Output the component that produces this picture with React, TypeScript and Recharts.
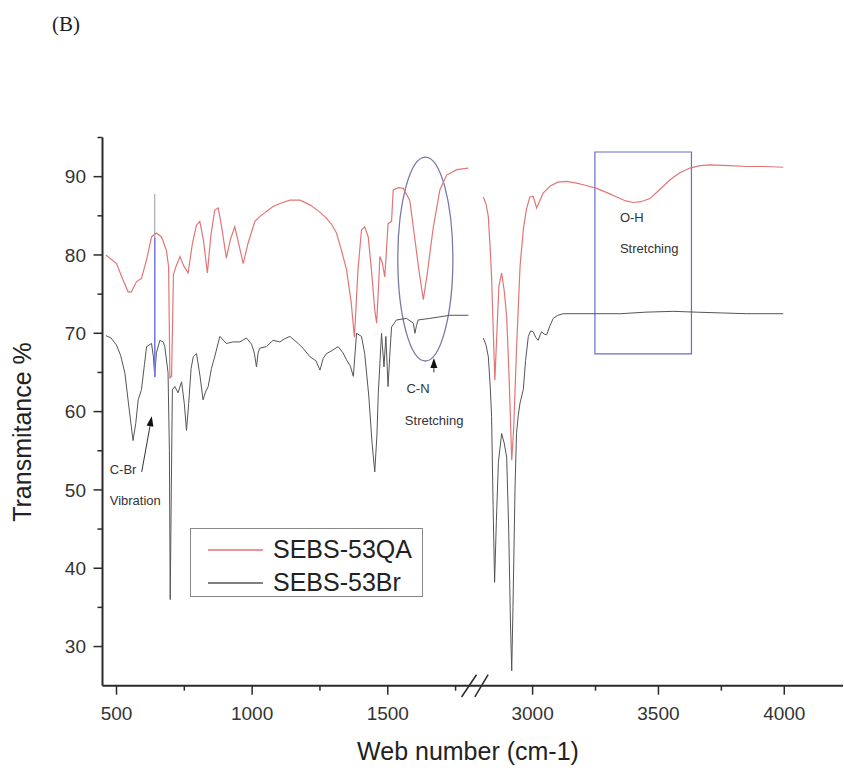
import React from 'react';
import { LineChart, Line, XAxis, YAxis, ReferenceLine, ReferenceArea, ReferenceDot, Legend, Label } from 'recharts';

// ---------- data (wavenumber cm-1, transmittance %) ----------
const qaLowWn = [461, 500, 524, 543, 555, 574, 592, 611, 629, 647, 666, 684, 692, 697, 703, 710, 720, 734, 748, 764, 780, 795, 807, 820, 835, 848, 862, 875, 888, 905, 920, 936, 950, 967, 985, 1010, 1028, 1050, 1077, 1105, 1139, 1176, 1213, 1245, 1274, 1295, 1311, 1330, 1348, 1365, 1377, 1390, 1403, 1415, 1428, 1440, 1452, 1459, 1466, 1471, 1480, 1489, 1495, 1501, 1514, 1520, 1540, 1557, 1581, 1600, 1615, 1631, 1645, 1668, 1692, 1717, 1754, 1797];
const qaLowT = [80.0, 78.9, 76.8, 75.3, 75.3, 76.6, 77.0, 79.4, 82.3, 82.8, 82.3, 80.6, 78.5, 64.3, 64.5, 77.5, 78.6, 79.8, 78.6, 77.7, 81.5, 83.8, 84.3, 82.0, 77.7, 82.5, 85.7, 86.0, 83.5, 79.6, 82.0, 83.6, 81.5, 78.9, 81.5, 84.3, 84.9, 85.5, 86.2, 86.6, 87.0, 87.0, 86.4, 85.6, 84.7, 83.8, 82.8, 80.5, 78.1, 74.0, 69.5, 78.0, 83.2, 83.6, 82.3, 78.0, 73.0, 71.3, 76.0, 79.8, 79.0, 77.2, 80.5, 84.0, 84.3, 88.3, 88.6, 88.5, 87.0, 82.0, 78.0, 74.3, 77.5, 83.6, 88.3, 90.2, 90.9, 91.1];

const qaHighWn = [2804, 2815, 2824, 2832, 2837, 2844, 2850, 2858, 2866, 2877, 2887, 2897, 2907, 2917, 2925, 2936, 2950, 2963, 2975, 2989, 3002, 3016, 3027, 3042, 3070, 3100, 3135, 3170, 3210, 3254, 3300, 3334, 3370, 3400, 3430, 3466, 3500, 3546, 3585, 3625, 3665, 3705, 3780, 3851, 3920, 3996];
const qaHighT = [87.4, 86.5, 84.9, 80.5, 77.2, 70.0, 64.0, 70.0, 76.0, 77.7, 75.5, 72.1, 64.0, 53.8, 58.0, 67.9, 78.5, 83.2, 85.8, 87.4, 87.5, 86.0, 86.8, 87.9, 88.8, 89.3, 89.4, 89.2, 88.9, 88.5, 87.9, 87.4, 86.9, 86.7, 86.8, 87.2, 88.2, 89.6, 90.5, 91.1, 91.4, 91.5, 91.4, 91.3, 91.3, 91.2];

const brLowWn = [461, 480, 500, 515, 531, 546, 561, 571, 580, 592, 603, 611, 629, 636, 641, 647, 660, 672, 678, 690, 695, 698, 702, 706, 715, 727, 740, 750, 758, 766, 775, 783, 795, 808, 819, 828, 838, 850, 862, 881, 905, 930, 955, 979, 998, 1008, 1016, 1022, 1028, 1053, 1077, 1102, 1120, 1139, 1170, 1190, 1213, 1235, 1250, 1262, 1274, 1295, 1317, 1335, 1348, 1362, 1373, 1385, 1403, 1415, 1430, 1442, 1452, 1460, 1465, 1477, 1486, 1493, 1501, 1507, 1514, 1532, 1569, 1594, 1600, 1606, 1612, 1655, 1729, 1797];
const brLowT = [69.7, 69.4, 68.5, 67.2, 64.9, 60.5, 56.3, 58.5, 61.5, 62.8, 66.0, 68.3, 68.7, 67.0, 64.5, 67.5, 69.1, 68.9, 68.3, 65.0, 55.0, 36.0, 50.0, 62.8, 63.2, 62.4, 63.8, 61.0, 57.6, 61.0, 65.5, 67.0, 67.4, 64.5, 61.5, 62.5, 63.2, 65.5, 67.0, 69.6, 68.7, 68.9, 68.9, 69.4, 68.6, 67.5, 65.7, 67.5, 68.1, 68.3, 69.1, 68.9, 69.3, 69.6, 68.7, 68.0, 67.0, 66.5, 65.3, 66.8, 67.4, 67.8, 68.3, 67.5, 66.6, 65.8, 64.5, 70.0, 69.6, 67.4, 62.0, 56.0, 52.3, 57.0, 62.3, 70.0, 65.7, 69.6, 63.2, 67.0, 70.8, 71.7, 71.9, 71.3, 70.0, 71.0, 71.7, 71.9, 72.3, 72.3];

const brHighWn = [2804, 2815, 2824, 2832, 2837, 2843, 2849, 2856, 2864, 2877, 2887, 2897, 2905, 2912, 2917, 2922, 2930, 2936, 2943, 2950, 2963, 2972, 2983, 2992, 3002, 3012, 3022, 3030, 3036, 3046, 3056, 3068, 3082, 3100, 3122, 3188, 3260, 3350, 3450, 3559, 3650, 3750, 3850, 3996];
const brHighT = [69.4, 68.5, 67.0, 63.0, 59.4, 48.0, 38.2, 46.0, 53.5, 57.2, 56.0, 54.2, 45.0, 33.0, 26.9, 35.0, 50.0, 57.2, 59.5, 61.1, 62.8, 66.5, 69.6, 70.3, 70.2, 69.5, 69.1, 69.8, 70.2, 69.9, 69.8, 70.9, 71.9, 72.3, 72.5, 72.5, 72.5, 72.5, 72.7, 72.8, 72.7, 72.6, 72.5, 72.5];

const seriesNames = ['SEBS-53QA', 'SEBS-53Br'];
const xMajorTicks = [500, 1000, 1500, 3000, 3500, 4000];
const xMinorTicks = [750, 1250, 1750, 3250, 3750];
const yTicks = [30, 35, 40, 45, 50, 55, 60, 65, 70, 75, 80, 85, 90, 95];

// ---------- broken axis mapping ----------
const HIGH_START = 3000;
const HIGH_U = 2033.9;
const HIGH_FACTOR = 0.9277;
const toAxis = (wn: number) => (wn <= 2000 ? wn : HIGH_U + (wn - HIGH_START) * HIGH_FACTOR);
const fromAxis = (u: number) => (u <= 1900 ? u : HIGH_START + (u - HIGH_U) / HIGH_FACTOR);
const X_DOMAIN = [448.4, 3178.1];

const seg = (wns: number[], ts: number[]) => wns.map((w, i) => ({ u: toAxis(w), t: ts[i] }));
const qaLow = seg(qaLowWn, qaLowT);
const qaHigh = seg(qaHighWn, qaHighT);
const brLow = seg(brLowWn, brLowT);
const brHigh = seg(brHighWn, brHighT);
const xTicks = [...xMajorTicks, ...xMinorTicks].sort((a, b) => a - b).map(toAxis);

const RED = '#e27676';
const DARK = '#555555';
const AXIS = '#2a2a2a';
const FONT = '"Liberation Sans", Arial, sans-serif';
const SERIES_COLORS: Record<string, string> = { 'SEBS-53QA': RED, 'SEBS-53Br': DARK };

const XTick = (props: any) => {
  const { x, y, payload } = props;
  const wn = Math.round(fromAxis(payload.value));
  const major = xMajorTicks.includes(wn);
  return (
    <g>
      <line x1={x} x2={x} y1={y} y2={y + (major ? 9 : 5)} stroke={AXIS} strokeWidth={1.5} />
      {major && (
        <text x={x} y={y + 34} textAnchor="middle" fontSize={19} fill="#333" fontFamily={FONT}>
          {wn}
        </text>
      )}
    </g>
  );
};

const YTick = (props: any) => {
  const { x, y, payload } = props;
  const v = payload.value;
  const major = v % 10 === 0;
  return (
    <g>
      <line x1={x} x2={x - (major ? 9 : 5)} y1={y} y2={y} stroke={AXIS} strokeWidth={1.5} />
      {major && (
        <text x={x - 16.5} y={y} dy="0.36em" textAnchor="end" fontSize={19} fill="#333" fontFamily={FONT}>
          {v}
        </text>
      )}
    </g>
  );
};

const LegendBox = (props: any) => {
  const payload = props.payload || [];
  const items = seriesNames.map((name) => {
    const found = payload.find((p: any) => p.value === name);
    return { value: name, color: found ? found.color : SERIES_COLORS[name] };
  });
  return (
    <div style={{ width: 233, height: 69, border: '1.5px solid #888', boxSizing: 'border-box', background: '#fff', position: 'relative' }}>
      {items.map((p: any, i: number) => (
        <div key={p.value} style={{ position: 'absolute', left: 0, top: i === 0 ? 7 : 40, height: 28, width: 230 }}>
          <svg width={80} height={28} style={{ position: 'absolute', left: 0, top: 0 }}>
            <line x1={17} x2={72} y1={14} y2={14} stroke={p.color} strokeWidth={1.5} />
          </svg>
          <span style={{ position: 'absolute', left: 82, top: -1, fontSize: 25, lineHeight: '28px', fontFamily: FONT, color: '#222', whiteSpace: 'nowrap' }}>
            {p.value}
          </span>
        </div>
      ))}
    </div>
  );
};

const Arrow = (props: any) => {
  const { x1, y1, x2, y2 } = props;
  const ang = Math.atan2(y2 - y1, x2 - x1);
  const L = 10, W = 3.5;
  const bx = x2 - L * Math.cos(ang), by = y2 - L * Math.sin(ang);
  const px = -Math.sin(ang) * W, py = Math.cos(ang) * W;
  return (
    <g>
      <line x1={x1} y1={y1} x2={bx} y2={by} stroke="#333" strokeWidth={1} />
      <polygon points={`${x2},${y2} ${bx + px},${by + py} ${bx - px},${by - py}`} fill="#111" />
    </g>
  );
};

const textShape = (txt: string) => (p: any) => (
  <text x={p.cx} y={p.cy} fontSize={13} fill="#333" fontFamily={FONT}>
    {txt}
  </text>
);

export default function App() {
  return (
    <div style={{ position: 'absolute', left: 0, top: 0, width: 844, height: 772, background: '#fff' }}>
      <svg width={120} height={50} style={{ position: 'absolute', left: 0, top: 0 }}>
        <text x={52} y={31} fontSize={21} fontFamily='"Liberation Serif", "Times New Roman", serif' fill="#222">
          (B)
        </text>
      </svg>
      <LineChart width={844} height={772} margin={{ top: 137.5, right: 1, bottom: 0, left: 0 }}>
        <XAxis
          type="number"
          dataKey="u"
          domain={X_DOMAIN}
          allowDataOverflow
          ticks={xTicks}
          interval={0}
          tick={<XTick />}
          tickLine={false}
          tickSize={0}
          tickMargin={0}
          height={86.3}
          axisLine={{ stroke: AXIS, strokeWidth: 2 }}
        >
          <Label
            content={() => (
              <text x={468} y={760} textAnchor="middle" fontSize={25} fill="#222" fontFamily={FONT}>
                Web number (cm-1)
              </text>
            )}
          />
        </XAxis>
        <YAxis
          type="number"
          domain={[25, 95]}
          allowDataOverflow
          ticks={yTicks}
          interval={0}
          tick={<YTick />}
          tickLine={false}
          tickSize={0}
          tickMargin={0}
          width={102.5}
          axisLine={{ stroke: AXIS, strokeWidth: 2 }}
        >
          <Label
            content={() => (
              <text transform="translate(31, 432) rotate(-90)" textAnchor="middle" fontSize={25} fill="#222" fontFamily={FONT}>
                Transmitance %
              </text>
            )}
          />
        </YAxis>
        <Legend
          layout="horizontal"
          verticalAlign="middle"
          align="center"
          content={<LegendBox />}
          wrapperStyle={{ position: 'absolute', left: 190, top: 528, width: 233, height: 69 }}
        />

        <Line data={qaLow} dataKey="t" name={seriesNames[0]} type="linear" stroke={RED} strokeWidth={1.2} dot={false} isAnimationActive={false} />
        <Line data={brLow} dataKey="t" name={seriesNames[1]} type="linear" stroke={DARK} strokeWidth={1} dot={false} isAnimationActive={false} />
        <Line data={qaHigh} dataKey="t" name="qaHigh" legendType="none" type="linear" stroke={RED} strokeWidth={1.2} dot={false} isAnimationActive={false} />
        <Line data={brHigh} dataKey="t" name="brHigh" legendType="none" type="linear" stroke={DARK} strokeWidth={1} dot={false} isAnimationActive={false} />

        {/* annotation marks */}
        <ReferenceLine segment={[{ x: toAxis(641), y: 87.8 }, { x: toAxis(641), y: 64.4 }]} stroke="#9a9aa8" strokeWidth={1} />
        <ReferenceLine segment={[{ x: toAxis(641), y: 82.2 }, { x: toAxis(641), y: 64.4 }]} stroke="#7c7ce0" strokeWidth={1.5} />
        <ReferenceArea
          x1={1537}
          x2={1740}
          y1={66.46}
          y2={92.5}
          shape={(p: any) => (
            <ellipse cx={p.x + p.width / 2} cy={p.y + p.height / 2} rx={p.width / 2} ry={p.height / 2} fill="none" stroke="#7a7aa8" strokeWidth={1.3} />
          )}
        />
        <ReferenceArea x1={toAxis(3247.6)} x2={toAxis(3631.2)} y1={67.36} y2={93.15} fill="none" fillOpacity={0} stroke="#6a6ad0" strokeWidth={1.2} />
        <ReferenceLine segment={[{ x: 593, y: 52.3 }, { x: 630, y: 59.4 }]} shape={<Arrow />} />
        <ReferenceLine segment={[{ x: 1670, y: 65.0 }, { x: 1670, y: 66.85 }]} shape={<Arrow />} />
        <ReferenceLine segment={[{ x: 1772, y: 23.56 }, { x: 1827, y: 26.4 }]} stroke={AXIS} strokeWidth={1.5} ifOverflow="visible" />
        <ReferenceLine segment={[{ x: 1821, y: 23.56 }, { x: 1870, y: 26.4 }]} stroke={AXIS} strokeWidth={1.5} ifOverflow="visible" />

        <ReferenceDot x={475} y={52.0} r={0} shape={textShape('C-Br')} />
        <ReferenceDot x={475} y={48.1} r={0} shape={textShape('Vibration')} />
        <ReferenceDot x={1569} y={62.4} r={0} shape={textShape('C-N')} />
        <ReferenceDot x={1563} y={58.3} r={0} shape={textShape('Stretching')} />
        <ReferenceDot x={toAxis(3347)} y={84.2} r={0} shape={textShape('O-H')} />
        <ReferenceDot x={toAxis(3347)} y={80.3} r={0} shape={textShape('Stretching')} />
      </LineChart>
    </div>
  );
}
